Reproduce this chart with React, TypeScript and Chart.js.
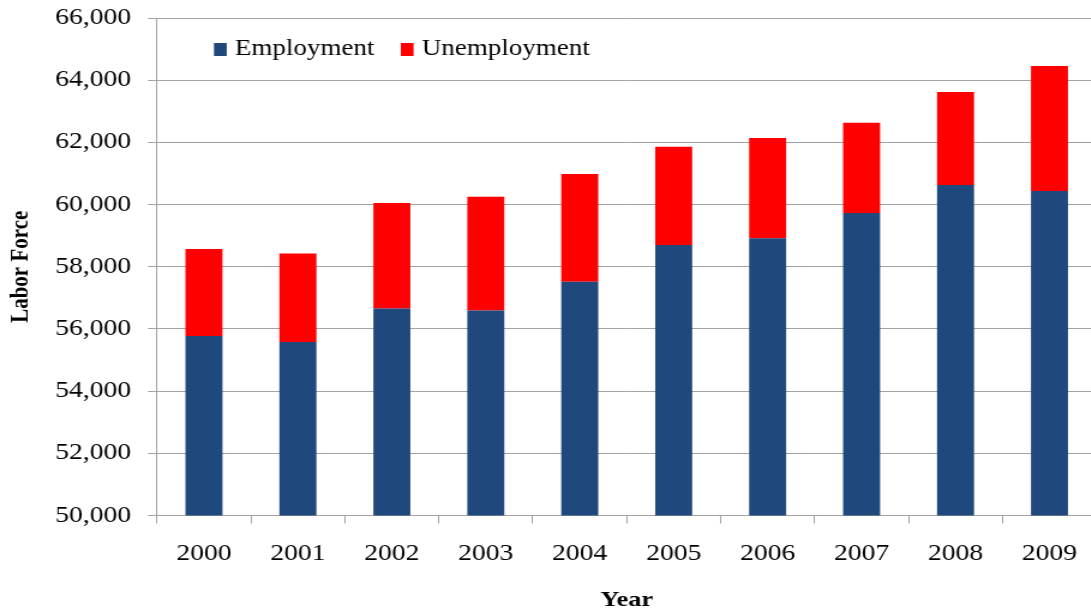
import React, { useEffect, useRef } from "react";
import { Chart, registerables } from "chart.js";

Chart.register(...registerables);

const years = ["2000", "2001", "2002", "2003", "2004", "2005", "2006", "2007", "2008", "2009"];
const employment = [55770, 55580, 56660, 56590, 57520, 58700, 58920, 59730, 60630, 60440];
const unemployment = [2800, 2850, 3390, 3660, 3460, 3160, 3220, 2900, 2990, 4020];
const seriesNames = ["Employment", "Unemployment"];
const seriesColors = ["#1F497D", "#FF0000"];
const yMin = 50000;
const yMax = 66000;
const yStep = 2000;
const xTitle = "Year";
const yTitle = "Labor Force";

const SX = 1.2;
const CW = 920;
const CH = 616;
const FONT = "'Liberation Serif', 'Times New Roman', serif";
const GRID = "#a3a3a3";

const insideLegend = {
  id: "insideLegend",
  afterDraw(chart: any) {
    const ctx = chart.ctx;
    ctx.save();
    ctx.font = `22.5px ${FONT}`;
    ctx.textBaseline = "middle";
    ctx.textAlign = "left";
    let x = chart.chartArea.left + 47.5;
    const cy = 49.5;
    chart.data.datasets.forEach((ds: any) => {
      ctx.fillStyle = ds.backgroundColor;
      ctx.fillRect(x, cy - 6.5, 10.6, 13);
      ctx.fillStyle = "#000";
      const tx = x + 17.5;
      ctx.fillText(ds.label, tx, cy);
      x = tx + ctx.measureText(ds.label).width + 22;
    });
    ctx.restore();
  },
};

export default function App() {
  const ref = useRef<HTMLCanvasElement | null>(null);

  useEffect(() => {
    if (!ref.current) return;
    const chart = new Chart(ref.current, {
      type: "bar",
      data: {
        labels: years,
        datasets: [
          {
            label: seriesNames[0],
            data: employment,
            backgroundColor: seriesColors[0],
            borderWidth: 0,
            barPercentage: 0.394,
            categoryPercentage: 1,
          },
          {
            label: seriesNames[1],
            data: unemployment,
            backgroundColor: seriesColors[1],
            borderWidth: 0,
            barPercentage: 0.394,
            categoryPercentage: 1,
          },
        ],
      },
      options: {
        responsive: false,
        animation: false,
        devicePixelRatio: 1,
        layout: { padding: { left: 0, top: 18, right: CW - 913.7, bottom: 0 } },
        plugins: {
          legend: { display: false },
          tooltip: { enabled: false },
        },
        scales: {
          x: {
            stacked: true,
            afterFit: (s: any) => {
              s.height = 100.5;
              s.paddingLeft = 0;
              s.paddingRight = 0;
            },
            grid: {
              display: true,
              offset: true,
              drawOnChartArea: false,
              drawTicks: true,
              tickLength: 8,
              color: GRID,
            },
            border: { display: true, color: GRID, width: 1 },
            ticks: {
              color: "#000",
              padding: 17,
              font: { family: FONT, size: 23 },
              maxRotation: 0,
            },
            title: {
              display: true,
              text: xTitle,
              color: "#000",
              font: { family: FONT, size: 22, weight: "bold" },
              padding: { top: 0, bottom: 2 },
            },
          },
          y: {
            stacked: true,
            min: yMin,
            max: yMax,
            afterFit: (s: any) => {
              s.width = 130.8;
              s.paddingTop = 0;
              s.paddingBottom = 0;
            },
            grid: {
              color: GRID,
              drawTicks: true,
              tickLength: 7.5,
              lineWidth: 1,
            },
            border: { display: true, color: GRID, width: 1 },
            ticks: {
              stepSize: yStep,
              color: "#000",
              padding: 14,
              font: { family: FONT, size: 23 },
              callback: (v: any) => Number(v).toLocaleString("en-US"),
            },
            title: {
              display: true,
              text: yTitle,
              color: "#000",
              font: { family: FONT, size: 21, weight: "bold" },
              padding: { top: 5.4, bottom: 0 },
            },
          },
        },
      },
      plugins: [insideLegend],
    } as any);
    return () => chart.destroy();
  }, []);

  return (
    <div
      style={{
        position: "absolute",
        left: 0,
        top: 0,
        width: 1091,
        height: 616,
        overflow: "hidden",
        background: "#fff",
      }}
    >
      <div style={{ width: CW, height: CH, transform: `scaleX(${SX})`, transformOrigin: "0 0" }}>
        <canvas ref={ref} width={CW} height={CH} style={{ display: "block" }} />
      </div>
    </div>
  );
}
